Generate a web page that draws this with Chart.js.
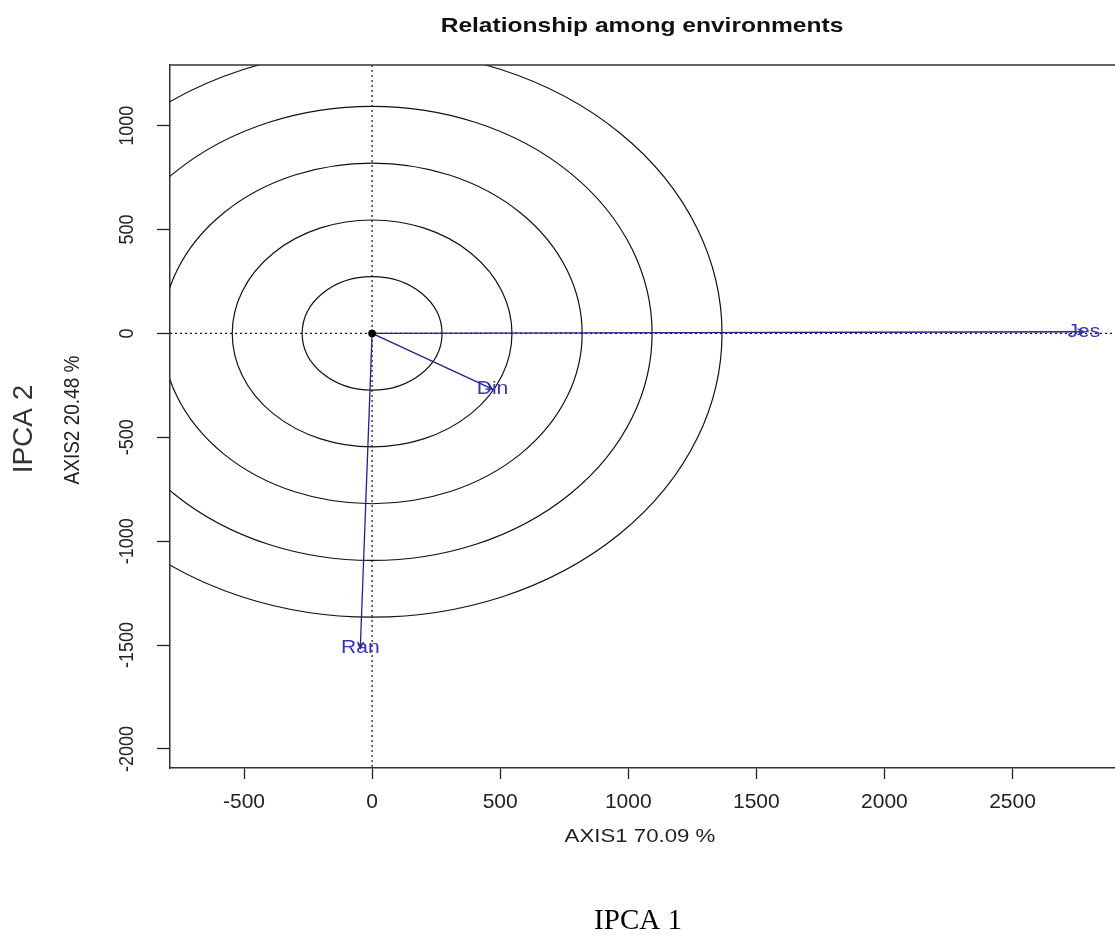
<!DOCTYPE html>
<html>
<head>
<meta charset="utf-8">
<script src="https://cdn.jsdelivr.net/npm/chart.js@4.4.1/dist/chart.umd.min.js"></script>
<style>
  html, body { margin: 0; padding: 0; background: #fff; overflow: hidden; }
  #wrap { width: 1115px; height: 936px; position: relative; overflow: hidden; }
</style>
</head>
<body>
<div id="wrap"><canvas id="myChart" width="1122" height="936"></canvas></div>
<script>
'use strict'

// ------------------------- Data -------------------------------------- //
const envNames = ['Jes', 'Din', 'Ran'];
const envX = [2779, 470, -46];
const envY = [8, -268, -1515];
const circleRadii = [273, 546, 820, 1093, 1366];
const xTicks = [-500, 0, 500, 1000, 1500, 2000, 2500];
const yTicks = [-2000, -1500, -1000, -500, 0, 500, 1000];

const chartTitle = 'Relationship among environments';
const xAxisTitle = 'AXIS1 70.09 %';
const yAxisTitle = 'AXIS2 20.48 %';
const outerX = 'IPCA 1';
const outerY = 'IPCA 2';

const lineBlue = '#1f1f8f';
const labelBlue = '#3434b4';
const sans = '"Liberation Sans", Arial, sans-serif';
const stretch = 1.17; // the R picture is a bit wider than tall

// ------------------------- Datasets ---------------------------------- //
const datasets = [];
for (let i = 0; i < envNames.length; i++) {
    datasets.push({
        label: envNames[i],
        data: [{x: 0, y: 0}, {x: envX[i], y: envY[i]}],
        showLine: true,
        borderColor: lineBlue,
        borderWidth: 1.3,
        pointRadius: 0,
        order: 2
    });
}
datasets.push({
    label: 'origin',
    data: [{x: 0, y: 0}],
    pointRadius: 3.5,
    backgroundColor: '#000',
    borderColor: '#000',
    order: 1
});

// ------------------------- Helpers ----------------------------------- //
function wideText(ctx, text, x, y, rot) {
    ctx.save();
    ctx.translate(x, y);
    ctx.scale(stretch, 1);
    if (rot) ctx.rotate(rot);
    ctx.fillText(text, 0, 0);
    ctx.restore();
}

function arrowHead(ctx, x0, y0, x1, y1) {
    let ang = Math.atan2(y1 - y0, x1 - x0);
    let len = 7;
    ctx.beginPath();
    ctx.moveTo(x1 - len * Math.cos(ang - 0.45), y1 - len * Math.sin(ang - 0.45));
    ctx.lineTo(x1, y1);
    ctx.lineTo(x1 - len * Math.cos(ang + 0.45), y1 - len * Math.sin(ang + 0.45));
    ctx.stroke();
}

// ------------------------- Plugin ------------------------------------ //
const biplotDecor = {
    id: 'biplotDecor',
    beforeDatasetsDraw(chart) {
        const {ctx, chartArea: a, scales: {x, y}} = chart;
        const cx = x.getPixelForValue(0);
        const cy = y.getPixelForValue(0);
        ctx.save();
        ctx.beginPath();
        ctx.rect(a.left, a.top, a.right - a.left, a.bottom - a.top);
        ctx.clip();
        // circles
        ctx.strokeStyle = '#111';
        ctx.lineWidth = 1.2;
        for (let r of circleRadii) {
            let rx = x.getPixelForValue(r) - cx;
            let ry = cy - y.getPixelForValue(r);
            ctx.beginPath();
            ctx.ellipse(cx, cy, rx, ry, 0, 0, Math.PI * 2);
            ctx.stroke();
        }
        // dotted reference lines
        ctx.setLineDash([2, 3]);
        ctx.beginPath();
        ctx.moveTo(a.left, cy);
        ctx.lineTo(a.right, cy);
        ctx.moveTo(cx, a.top);
        ctx.lineTo(cx, a.bottom);
        ctx.stroke();
        ctx.restore();
    },
    afterDatasetsDraw(chart) {
        const {ctx, chartArea: a, scales: {x, y}} = chart;
        const cx = x.getPixelForValue(0);
        const cy = y.getPixelForValue(0);
        ctx.save();
        // top frame line
        ctx.strokeStyle = '#333';
        ctx.lineWidth = 1.5;
        ctx.beginPath();
        ctx.moveTo(a.left, a.top);
        ctx.lineTo(a.right, a.top);
        ctx.stroke();

        // small arrow heads at the vector ends
        ctx.strokeStyle = lineBlue;
        ctx.lineWidth = 1.3;
        for (let i = 0; i < envNames.length; i++) {
            arrowHead(ctx, cx, cy, x.getPixelForValue(envX[i]), y.getPixelForValue(envY[i]));
        }

        ctx.textAlign = 'center';
        ctx.textBaseline = 'middle';

        // environment labels
        ctx.fillStyle = labelBlue;
        ctx.font = '18px ' + sans;
        for (let i = 0; i < envNames.length; i++) {
            wideText(ctx, envNames[i], x.getPixelForValue(envX[i]), y.getPixelForValue(envY[i]));
        }

        // y tick labels, turned like in R
        ctx.fillStyle = '#222';
        ctx.font = '18px ' + sans;
        for (let t of y.ticks) {
            wideText(ctx, String(t.value), 127, y.getPixelForValue(t.value), -Math.PI / 2);
        }

        // titles
        ctx.textBaseline = 'alphabetic';
        ctx.fillStyle = '#111';
        ctx.font = 'bold 21px ' + sans;
        wideText(ctx, chartTitle, 642, 32);

        ctx.fillStyle = '#222';
        ctx.font = '19px ' + sans;
        wideText(ctx, xAxisTitle, 640, 842);

        ctx.textBaseline = 'middle';
        wideText(ctx, yAxisTitle, 73, 420, -Math.PI / 2);

        ctx.fillStyle = '#333';
        ctx.font = '28px ' + sans;
        ctx.save();
        ctx.translate(24, 429);
        ctx.rotate(-Math.PI / 2);
        ctx.fillText(outerY, 0, 0);
        ctx.restore();

        ctx.textBaseline = 'alphabetic';
        ctx.fillStyle = '#000';
        ctx.font = '29px "Liberation Serif", "Times New Roman", serif';
        ctx.fillText(outerX, 638, 929);
        ctx.restore();
    }
};

// ------------------------- Chart ------------------------------------- //
const ctx = document.getElementById('myChart').getContext('2d');
const myChart = new Chart(ctx, {
    type: 'scatter',
    data: {datasets: datasets},
    options: {
        responsive: false,
        animation: false,
        layout: {padding: {top: 65, right: 0, bottom: 0, left: 0}},
        plugins: {
            legend: {display: false},
            tooltip: {enabled: false}
        },
        scales: {
            x: {
                type: 'linear',
                min: -789,
                max: 2908,
                afterBuildTicks: (s) => { s.ticks = xTicks.map(v => ({value: v})); },
                afterFit: (s) => { s.height = 168; },
                ticks: {
                    color: '#222',
                    padding: 11,
                    font: {family: sans, size: 21},
                    callback: (v) => String(v)
                },
                grid: {drawOnChartArea: false, drawTicks: true, tickLength: 11, color: '#222', tickWidth: 1.3},
                border: {display: true, color: '#333', width: 1.5}
            },
            y: {
                type: 'linear',
                min: -2092,
                max: 1292,
                afterBuildTicks: (s) => { s.ticks = yTicks.map(v => ({value: v})); },
                afterFit: (s) => { s.width = 170; },
                ticks: {display: false},
                grid: {drawOnChartArea: false, drawTicks: true, tickLength: 13, color: '#222', tickWidth: 1.3},
                border: {display: true, color: '#333', width: 1.5}
            }
        }
    },
    plugins: [biplotDecor]
});
</script>
</body>
</html>
